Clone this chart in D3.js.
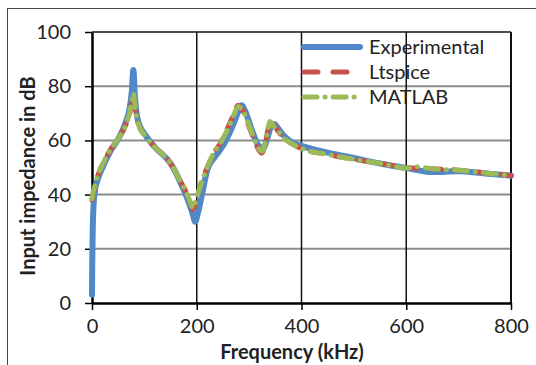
<!DOCTYPE html>
<html>
<head>
<meta charset="utf-8">
<script src="https://cdn.jsdelivr.net/npm/d3@7"></script>
<style>
body { margin: 0; background: #fff; }
svg text { font-family: Lato, "Open Sans", sans-serif; fill: #222; }
</style>
</head>
<body>
<svg id="main" width="536" height="365"></svg>
<script>
// data (frequency in kHz, impedance in dB)
var expF = [0, 0.5, 1.5, 3, 6, 10, 20, 35, 50, 65, 72, 76, 79, 82, 86, 92, 100, 120, 150, 170, 185, 192, 197, 202, 210, 220, 235, 250, 270, 280, 286, 292, 305, 318, 327, 335, 343, 349, 355, 365, 380, 400, 450, 500, 550, 600, 650, 700, 750, 800];
var expV = [3, 15, 28, 36, 42, 45, 50, 56, 60.5, 67, 72, 78, 86, 76, 69, 65, 62.5, 57.5, 51.5, 44, 37, 33, 30, 33, 40, 49, 54, 58, 66, 71, 73, 71, 64, 58, 57, 61, 65.5, 66, 64.5, 62, 59.5, 58, 55.5, 53.5, 51.5, 49.8, 48.3, 48.6, 47.8, 47];

var ltF = [0, 3, 8, 15, 25, 35, 50, 65, 72, 76, 79, 82, 86, 92, 100, 120, 150, 170, 182, 188, 193, 198, 205, 212, 220, 230, 245, 260, 270, 279, 288, 300, 312, 320, 324, 330, 336, 340, 346, 355, 365, 380, 400, 450, 500, 550, 600, 650, 700, 750, 800];
var ltV = [38, 41, 45, 49, 53, 56.5, 60.5, 66, 70, 74, 77, 73, 68, 64.5, 62, 57.5, 51.5, 44.5, 40, 37, 34.5, 37, 42, 46.5, 50, 54.5, 59, 65, 69.5, 73, 71, 65, 59, 56, 55.3, 58, 64, 67.5, 66, 63.5, 61, 59, 57, 54.8, 53, 51.5, 50, 49.5, 49, 48, 47];

var mlF = [0, 3, 8, 15, 25, 35, 50, 65, 72, 76, 79, 82, 86, 92, 100, 120, 150, 170, 182, 188, 193, 198, 205, 212, 220, 230, 245, 260, 270, 279, 288, 300, 312, 320, 325, 330, 336, 340, 346, 355, 365, 380, 400, 450, 500, 550, 600, 620, 650, 700, 750, 800];
var mlV = [38.5, 41.5, 45, 49, 53, 56.5, 60.5, 66, 70.5, 74.5, 77.5, 73, 68, 64.5, 62, 57.5, 51.5, 44.5, 40, 37, 35, 37.5, 42, 46, 50, 54.5, 59, 64.5, 69, 72.5, 71, 65.5, 59.5, 56.5, 56, 58.5, 64, 67, 65.5, 63.5, 61, 59, 57, 54.8, 53, 51.5, 49.8, 50.3, 49.5, 49, 48, 47];

var xTicks = [0, 200, 400, 600, 800];
var yTicks = [0, 20, 40, 60, 80, 100];

var series = [
  {name: "Experimental", f: expF, v: expV, color: "#5088c8", width: 6, dash: null},
  {name: "Ltspice", f: ltF, v: ltV, color: "#c8504d", width: 5, dash: "12,12"},
  {name: "MATLAB", f: mlF, v: mlV, color: "#9bbb59", width: 5, dash: "13,8,0.1,8"}
];

var svg = d3.select("#main");
var L = 92, R = 511, T = 32, B = 303;

var x = d3.scaleLinear().domain([0, 800]).range([L, R]);
var y = d3.scaleLinear().domain([0, 100]).range([B, T]);

// outer frame
svg.append("rect").attr("x", 7.5).attr("y", 8.5).attr("width", 540).attr("height", 370)
  .attr("fill", "none").attr("stroke", "#444").attr("stroke-width", 1);

// horizontal grid
svg.selectAll(".hg").data([20, 40, 60, 80]).enter().append("line")
  .attr("x1", L).attr("x2", R).attr("y1", function(d){ return y(d); }).attr("y2", function(d){ return y(d); })
  .attr("stroke", "#8c8c8c").attr("stroke-width", 2);
// vertical grid
svg.selectAll(".vg").data([200, 400, 600]).enter().append("line")
  .attr("y1", T).attr("y2", B).attr("x1", function(d){ return x(d); }).attr("x2", function(d){ return x(d); })
  .attr("stroke", "#111").attr("stroke-width", 1.5);
// top and right border
svg.append("line").attr("x1", L).attr("x2", R).attr("y1", T).attr("y2", T).attr("stroke", "#111").attr("stroke-width", 1.5);
svg.append("line").attr("x1", R).attr("x2", R).attr("y1", T).attr("y2", B).attr("stroke", "#111").attr("stroke-width", 2);

// axes
var xAxis = svg.append("g").attr("transform", "translate(0," + B + ")")
  .call(d3.axisBottom(x).tickValues(xTicks).tickSizeInner(7).tickSizeOuter(0).tickPadding(9));
var yAxis = svg.append("g").attr("transform", "translate(" + L + ",0)")
  .call(d3.axisLeft(y).tickValues(yTicks).tickSizeInner(7).tickSizeOuter(0).tickPadding(14));
[xAxis, yAxis].forEach(function(a) {
  a.select(".domain").attr("stroke", "#000").attr("stroke-width", 2.5);
  a.selectAll(".tick line").attr("stroke", "#000").attr("stroke-width", 1.5);
  a.selectAll("text").attr("font-size", 20).attr("fill", "#222").style("font-family", "Lato, sans-serif");
});

// curves
var line = d3.line().curve(d3.curveMonotoneX);
series.forEach(function(s) {
  var pts = s.f.map(function(f, i){ return [x(f), y(s.v[i])]; });
  var p = svg.append("path").attr("d", line(pts)).attr("fill", "none")
    .attr("stroke", s.color).attr("stroke-width", s.width)
    .attr("stroke-linecap", "round").attr("stroke-linejoin", "round");
  if (s.dash) p.attr("stroke-dasharray", s.dash);
});

// legend
var lg = svg.selectAll(".lg").data(series).enter().append("g")
  .attr("transform", function(d, i){ return "translate(302," + (47 + i * 25) + ")"; });
lg.append("line").attr("x1", 2).attr("x2", 58).attr("y1", 0).attr("y2", 0)
  .attr("stroke", function(d){ return d.color; }).attr("stroke-width", function(d){ return d.width; })
  .attr("stroke-linecap", "round")
  .attr("stroke-dasharray", function(d){ return d.name == "Ltspice" ? "14,15" : d.dash; });
lg.append("text").attr("x", 67).attr("y", 7).attr("font-size", 20).text(function(d){ return d.name; });

// axis titles
svg.append("text").attr("x", 292).attr("y", 359).attr("text-anchor", "middle")
  .attr("font-size", 20).attr("font-weight", "bold").attr("fill", "#111").text("Frequency (kHz)");
svg.append("text").attr("transform", "translate(35,176) rotate(-90)").attr("text-anchor", "middle")
  .attr("font-size", 20).attr("font-weight", "bold").attr("fill", "#111").text("Input impedance in dB");
</script>
</body>
</html>
